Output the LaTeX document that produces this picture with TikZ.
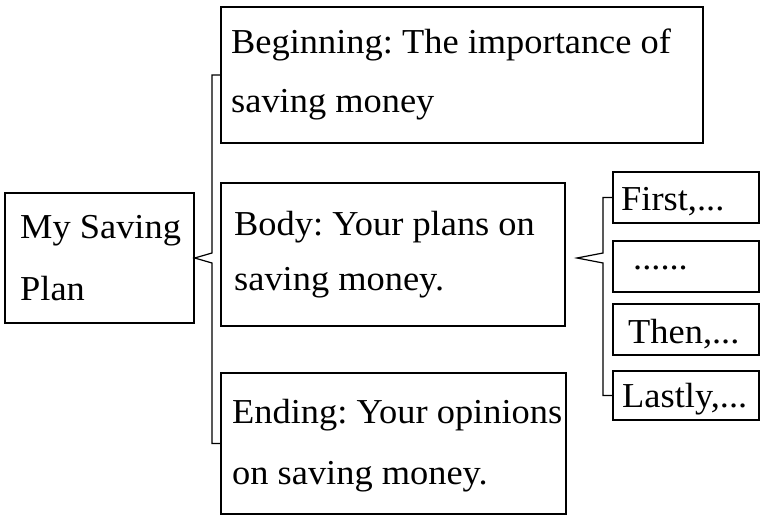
\documentclass[tikz,border=0pt]{standalone}
\usepackage{fontspec}
\setmainfont[FakeStretch=1.04]{Liberation Serif}
\begin{document}
\frenchspacing
\begin{tikzpicture}[x=1pt,y=-1pt,
  box/.style={draw,line width=1.3pt,inner sep=0pt,minimum width=#1},
  txt/.style={anchor=base west,inner sep=0pt,font=\fontsize{35}{40}\selectfont},
  link/.style={draw,line width=1.2pt}]
\useasboundingbox (0,0) rectangle (768,522);
% boxes
\node[box=189pt,minimum height=130pt] (main) at (99.5,258) {};
\node[box=482pt,minimum height=136pt] (beg) at (462,75) {};
\node[box=344pt,minimum height=143pt] (body) at (393,254.5) {};
\node[box=345pt,minimum height=141pt] (end) at (393.5,443.5) {};
\node[box=146pt,minimum height=51pt] (s1) at (686,197.5) {};
\node[box=146pt,minimum height=51pt] (s2) at (686,266.5) {};
\node[box=146pt,minimum height=51pt] (s3) at (686,329.5) {};
\node[box=146pt,minimum height=49pt] (s4) at (686,395.5) {};
% texts
\node[txt] (t1) at (20,238) {My Saving};
\node[txt] (t2) at (20,300) {Plan};
\node[txt] (t3) at (231,53) {Beginning: The importance of};
\node[txt] (t4) at (231,112) {saving money};
\node[txt] (t5) at (234,235) {Body: Your plans on};
\node[txt] (t6) at (234,290) {saving money.};
\node[txt] (t7) at (232,423) {Ending: Your opinions};
\node[txt] (t8) at (232,484) {on saving money.};
\node[txt] (t9) at (621,210) {First,...};
\node[txt] (t10) at (633,269) {......};
\node[txt] (t11) at (628,343) {Then,...};
\node[txt] (t12) at (622,407) {Lastly,...};
% brackets
\coordinate (tip2) at (577,258);
\draw[link] (beg.west) -| (212,253) -- (main.east) -- (212,263) |- (end.west);
\draw[link] (s1.west) -| (603,253) -- (tip2) -- (603,263) |- (s4.west);
\end{tikzpicture}
\end{document}
